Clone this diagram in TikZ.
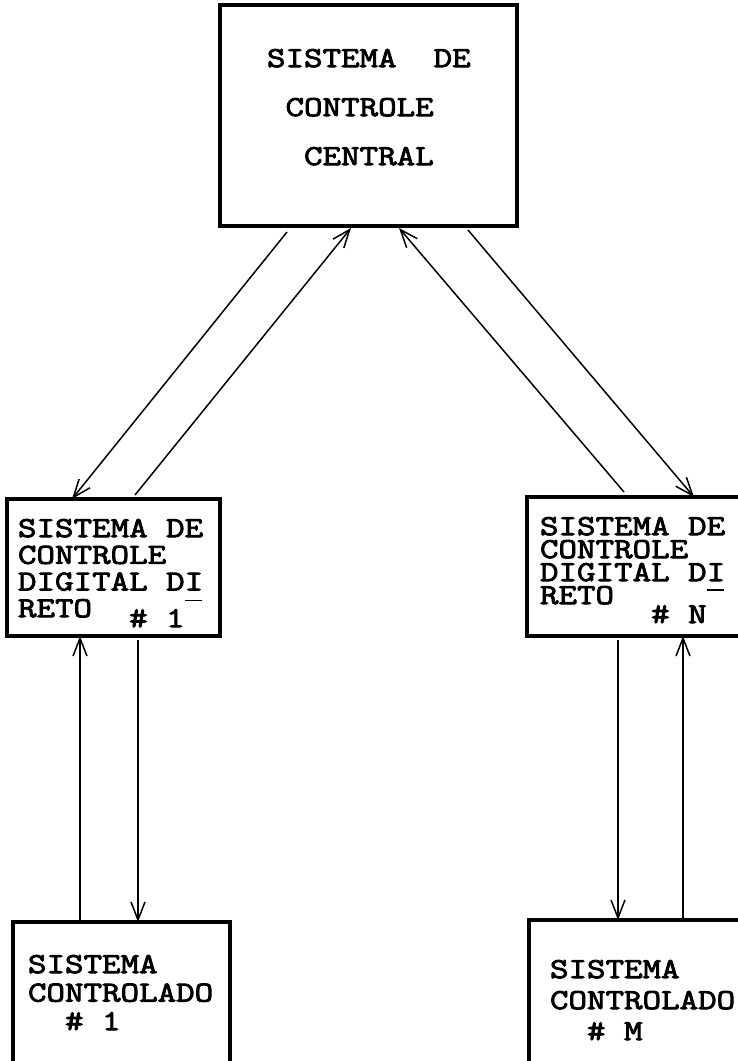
\documentclass[tikz,border=0pt]{standalone}
\usepackage{fontspec}
\newfontfamily\typewriter{Latin Modern Mono}[FakeStretch=1.24, FakeBold=3]
\usetikzlibrary{arrows.meta}
% one typewriter blank
\newcommand{\esp}{\hphantom{X}}
% underline of a letter (hyphen mark of the typescript)
\newcommand{\sublinha}[2][11pt]{\makebox[0pt][l]{\raisebox{-#1}[0pt][0pt]{\rule{17pt}{1.6pt}}}#2}

\begin{document}
\begin{tikzpicture}[x=1pt, y=1pt,
      box/.style={draw, line width=3.5pt, anchor=north west, outer sep=0pt,
                  inner sep=0pt, align=left},
      arr/.style={-{Straight Barb[length=18pt, width=14pt]}, line width=1.5pt}
  ]
    \clip (0,0) rectangle (738,-1061);

    \node[box, minimum width=297pt, minimum height=221pt, text width=203pt, text depth=115pt,
          font=\typewriter\fontsize{29pt}{49pt}\selectfont] (central) at (220,-5)
      {\mbox{SISTEMA\esp\esp DE}\\\mbox{\esp CONTROLE}\\\mbox{\esp\esp CENTRAL}};
    \node[box, minimum width=213pt, minimum height=137pt, text width=191pt, text depth=79pt,
          font=\typewriter\fontsize{29pt}{26.7pt}\selectfont] (ddc1) at (7,-499)
      {\mbox{SISTEMA\esp DE}\\\mbox{CONTROLE}\\\mbox{DIGITAL\esp D\sublinha{I}}\\
       \mbox{RETO\esp\esp\raisebox{-10pt}{\#\esp 1}}};
    \node[box, minimum width=218pt, minimum height=139pt, text width=192pt, text depth=81pt,
          font=\typewriter\fontsize{29pt}{23pt}\selectfont] (ddcn) at (527,-497)
      {\mbox{SISTEMA\esp DE}\\\mbox{CONTROLE}\\\mbox{DIGITAL\esp D\sublinha[10pt]{I}}\\
       \mbox{RETO\esp\esp\raisebox{-19pt}{\#\esp N}}};
    \node[box, minimum width=217pt, minimum height=160pt, text width=187pt, text depth=76pt,
          font=\typewriter\fontsize{29pt}{28.5pt}\selectfont] (plant1) at (13,-922)
      {\mbox{SISTEMA}\\\mbox{CONTROLADO}\\\mbox{\esp\esp\#\esp 1}};
    \node[box, minimum width=216pt, minimum height=160pt, text width=174pt, text depth=62pt,
          font=\typewriter\fontsize{29pt}{31pt}\selectfont] (plantm) at (529,-920)
      {\mbox{SISTEMA}\\\mbox{CONTROLADO}\\\mbox{\esp\esp\#\esp M}};

    \draw[arr] ([xshift=67pt,yshift=-6pt]central.south west) -- ([xshift=65pt]ddc1.north west);
    \draw[arr] ([xshift=128pt,yshift=4pt]ddc1.north west) -- ([xshift=131pt,yshift=-2pt]central.south west);
    \draw[arr] ([xshift=97pt,yshift=5pt]ddcn.north west) -- ([xshift=179pt,yshift=-2pt]central.south west);
    \draw[arr] ([xshift=248pt,yshift=-4pt]central.south west) -- ([xshift=167pt]ddcn.north west);

    \draw[arr] ([xshift=67pt]plant1.north west) -- ([xshift=73pt]ddc1.south west);
    \draw[arr] ([xshift=131pt,yshift=-4pt]ddc1.south west) -- ([xshift=125pt]plant1.north west);
    \draw[arr] ([xshift=91pt,yshift=-4pt]ddcn.south west) -- ([xshift=89pt]plantm.north west);
    \draw[arr] ([xshift=154pt]plantm.north west) -- ([xshift=156pt]ddcn.south west);
  \end{tikzpicture}
\end{document}
